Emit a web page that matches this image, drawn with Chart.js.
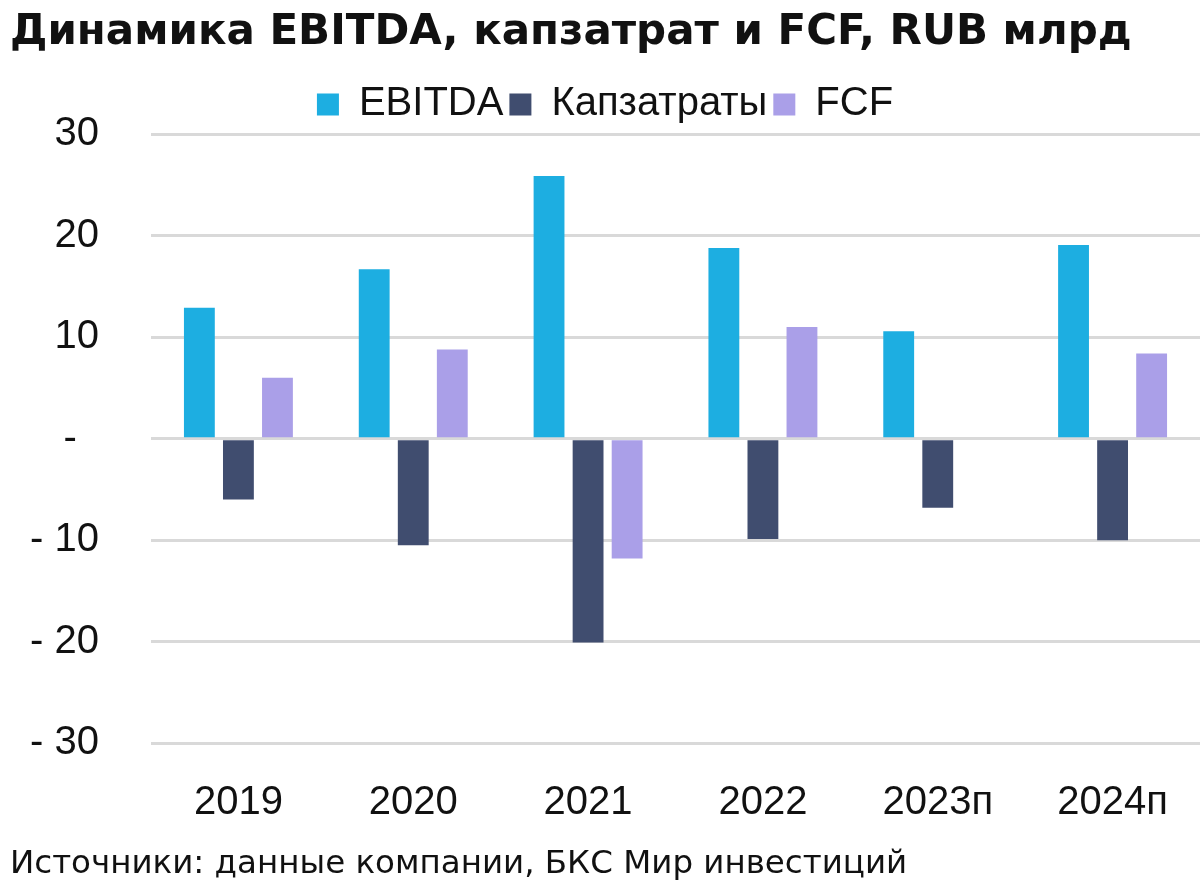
<!DOCTYPE html>
<html>
<head>
<meta charset="utf-8">
<script src="https://cdn.jsdelivr.net/npm/chart.js@4"></script>
<style>
  html, body { margin: 0; padding: 0; background: #fff; }
  #wrap { width: 1200px; height: 886px; }
</style>
</head>
<body>
<div id="wrap"><canvas id="ebitdaChart"></canvas></div>
<script>
var years = ['2019', '2020', '2021', '2022', '2023п', '2024п'];
var ebitda = [12.9, 16.7, 25.9, 18.8, 10.6, 19.1];
var capex = [-6.0, -10.5, -20.1, -9.9, -6.8, -10.0];
var fcf = [6.0, 8.8, -11.8, 11.0, null, 8.4];
var yTickLabels = { '30': '30', '20': '20', '10': '10', '0': '-  ', '-10': '- 10', '-20': '- 20', '-30': '- 30' };

var ctx = document.getElementById('ebitdaChart').getContext('2d');
var ebitdaChart = new Chart(ctx, {
  type: 'bar',
  data: {
    labels: years,
    datasets: [{
      label: 'EBITDA',
      data: ebitda,
      backgroundColor: '#1DAEE1'
    }, {
      label: 'Капзатраты',
      data: capex,
      backgroundColor: '#404D6F'
    }, {
      label: 'FCF',
      data: fcf,
      backgroundColor: '#AA9FE8'
    }]
  },
  options: {
    responsive: true,
    maintainAspectRatio: false,
    animation: false,
    layout: { padding: { left: 10, right: 0, top: 8, bottom: 2 } },
    datasets: {
      bar: { categoryPercentage: 0.67, barPercentage: 0.79 }
    },
    plugins: {
      title: {
        display: true,
        text: 'Динамика EBITDA, капзатрат и FCF, RUB млрд',
        align: 'start',
        color: '#111',
        font: { family: 'DejaVu Sans', size: 42, weight: 'bold' },
        padding: { top: 0, bottom: 20 }
      },
      subtitle: {
        display: true,
        position: 'bottom',
        text: 'Источники: данные компании, БКС Мир инвестиций',
        align: 'start',
        color: '#111',
        font: { family: 'DejaVu Sans', size: 32.5 },
        padding: { top: 22, bottom: 0 }
      },
      legend: {
        position: 'top',
        labels: {
          color: '#111',
          font: { family: 'Liberation Sans', size: 40 },
          boxWidth: 22,
          boxHeight: 22,
          padding: 6
        }
      },
      tooltip: { enabled: false }
    },
    scales: {
      x: {
        grid: { display: false, tickLength: 40 },
        border: { display: false },
        ticks: { color: '#111', font: { family: 'Liberation Sans', size: 40, lineHeight: 1 }, padding: 0 }
      },
      y: {
        min: -30,
        max: 30,
        border: { display: false },
        grid: { color: '#D9D9D9', lineWidth: 3, drawTicks: false },
        afterFit: function (scale) { scale.width = 141; },
        ticks: {
          stepSize: 10,
          color: '#111',
          font: { family: 'Liberation Sans', size: 40 },
          padding: 52,
          callback: function (v) { return yTickLabels[String(v)]; }
        }
      }
    }
  }
});
</script>
</body>
</html>
